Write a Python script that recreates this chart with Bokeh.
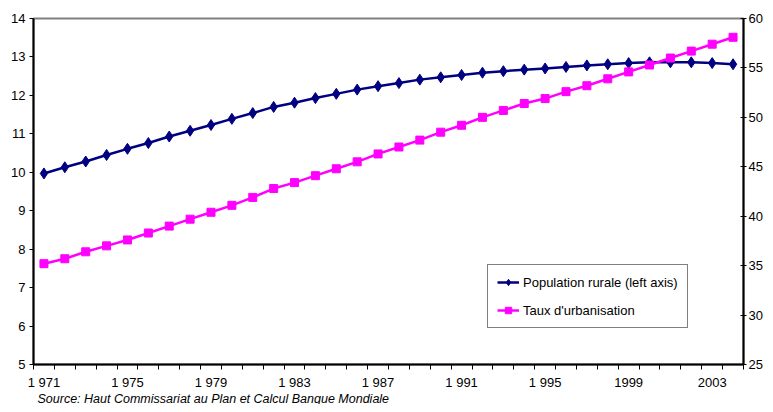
from bokeh.plotting import figure
from bokeh.models import Range1d, LinearAxis, FixedTicker, Legend, LegendItem, Title
from bokeh.embed import file_html
from bokeh.resources import INLINE

years = list(range(1971, 2005))
pop_rurale = [9.97, 10.13, 10.28, 10.45, 10.61, 10.76, 10.93, 11.08, 11.23, 11.39,
              11.54, 11.70, 11.81, 11.93, 12.04, 12.15, 12.24, 12.32, 12.41, 12.47,
              12.53, 12.59, 12.63, 12.67, 12.70, 12.74, 12.78, 12.81, 12.84, 12.86,
              12.86, 12.86, 12.84, 12.81]
taux_urb = [35.2, 35.7, 36.4, 37.0, 37.6, 38.3, 39.0, 39.7, 40.4, 41.1,
            41.9, 42.8, 43.4, 44.1, 44.8, 45.5, 46.3, 47.0, 47.7, 48.5,
            49.2, 50.0, 50.7, 51.4, 51.9, 52.6, 53.2, 53.9, 54.6, 55.3,
            56.0, 56.7, 57.4, 58.1]
label_years = [1971, 1975, 1979, 1983, 1987, 1991, 1995, 1999, 2003]
label_texts = ["1 971", "1 975", "1 979", "1 983", "1 987", "1 991", "1 995", "1999", "2003"]
left_ticks = list(range(5, 15))
right_ticks = list(range(25, 65, 5))

FONT = "Liberation Sans"
NAVY = "#000080"
PINK = "#FF00FF"

p = figure(width=765, height=404, x_range=Range1d(1970.5, 2004.5), y_range=Range1d(5, 14),
           output_backend="svg", toolbar_location=None,
           min_border_left=33, min_border_right=18, min_border_top=18, min_border_bottom=40)
p.extra_y_ranges = {"right": Range1d(25, 60)}
p.xgrid.visible = False
p.ygrid.visible = False
p.outline_line_color = "#808080"
p.outline_line_width = 2
p.background_fill_color = "white"
p.border_fill_color = "white"

# x axis
xa = p.xaxis[0]
xa.ticker = FixedTicker(ticks=label_years, minor_ticks=[y - 0.5 for y in years] + [2004.5])
xa.major_label_overrides = {y: t for y, t in zip(label_years, label_texts)}
xa.major_tick_line_color = None
xa.minor_tick_out = 5
xa.minor_tick_in = 0
xa.minor_tick_line_color = "black"
xa.axis_line_color = "black"
xa.axis_line_width = 2
xa.major_label_standoff = 4
xa.major_label_text_font = FONT
xa.major_label_text_font_size = "13px"
xa.major_label_text_color = "black"

# left axis
ya = p.yaxis[0]
ya.ticker = FixedTicker(ticks=left_ticks, minor_ticks=[])
ya.axis_line_width = 2
ya.axis_line_color = "black"
ya.major_tick_out = 4
ya.major_tick_in = 0
ya.major_label_standoff = 4
ya.major_label_text_font = FONT
ya.major_label_text_font_size = "13px"
ya.major_label_text_color = "black"

# right axis
ra = LinearAxis(y_range_name="right", ticker=FixedTicker(ticks=right_ticks, minor_ticks=[]))
ra.axis_line_width = 2
ra.axis_line_color = "black"
ra.major_tick_out = 3
ra.major_tick_in = 3
ra.major_label_standoff = 2
ra.major_label_text_font = FONT
ra.major_label_text_font_size = "13px"
ra.major_label_text_color = "black"
p.add_layout(ra, "right")

l1 = p.line(years, pop_rurale, line_color=NAVY, line_width=2.5)
s1 = p.scatter(years, pop_rurale, marker="diamond", size=11, fill_color=NAVY, line_color=NAVY)
l2 = p.line(years, taux_urb, line_color=PINK, line_width=2.5, y_range_name="right")
s2 = p.scatter(years, taux_urb, marker="square", size=8, fill_color=PINK, line_color=PINK,
               y_range_name="right")

legend = Legend(items=[LegendItem(label="Population rurale (left axis)", renderers=[l1, s1]),
                       LegendItem(label="Taux d'urbanisation", renderers=[l2, s2])],
                location=(454, 36), orientation="vertical",
                border_line_color="black", border_line_width=1,
                background_fill_color="white", background_fill_alpha=1,
                label_text_font=FONT, label_text_font_size="13px",
                label_text_color="black",
                glyph_width=22, glyph_height=16, label_height=16,
                label_standoff=4, padding=9, spacing=12, margin=0)
p.add_layout(legend, "center")

src = Title(text="Source: Haut Commissariat au Plan et Calcul Banque Mondiale",
            align="left", text_font=FONT, text_font_size="12.5px",
            text_font_style="italic", text_color="black", offset=4, standoff=-6)
p.add_layout(src, "below")

open("out.html", "w").write(file_html(p, INLINE))
